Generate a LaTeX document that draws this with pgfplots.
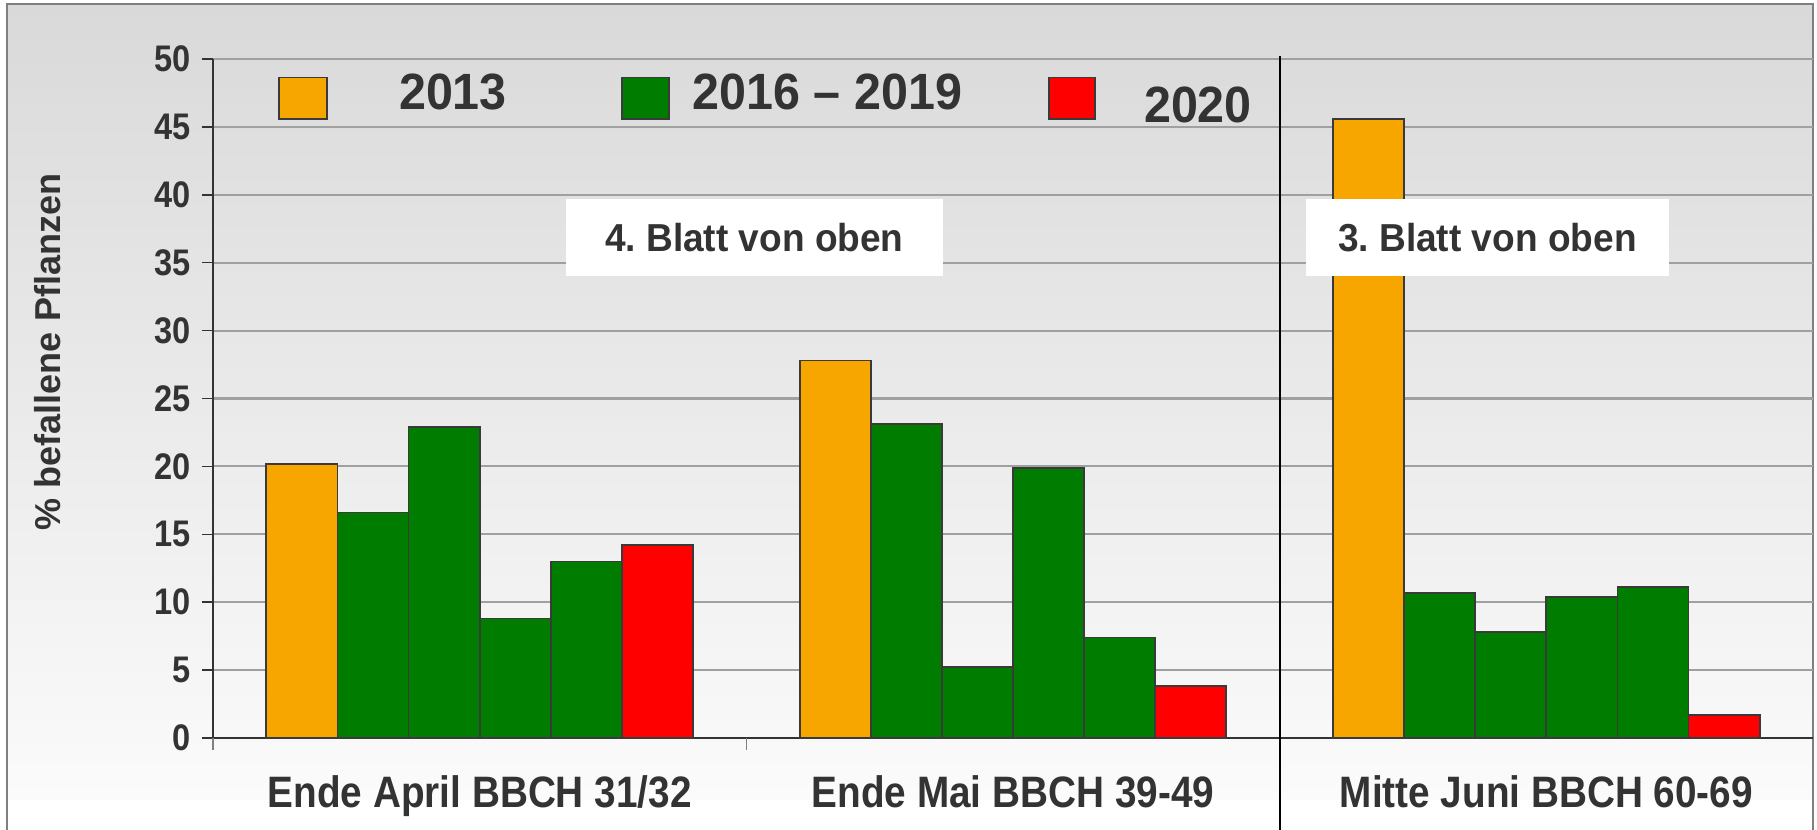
\documentclass[border=0pt]{standalone}
\usepackage{fontspec}
\setmainfont{Liberation Sans}
\newfontfamily\cond[FakeStretch=0.88]{Liberation Sans}
\newfontfamily\condb[FakeStretch=0.95]{Liberation Sans}
\usepackage{pgfplots}
\pgfplotsset{compat=1.18}
\definecolor{c2013}{HTML}{F7A600}
\definecolor{cgreen}{HTML}{007C00}
\definecolor{c2020}{HTML}{FF0000}
\definecolor{txt}{HTML}{333333}
\definecolor{bardraw}{HTML}{3A3A3A}
\definecolor{gridgray}{HTML}{A0A0A0}
\definecolor{bgtop}{HTML}{D9D9D9}
\definecolor{bgbot}{HTML}{FBFBFB}
\definecolor{framegray}{HTML}{7F7F7F}

\begin{document}
\begin{tikzpicture}[x=1pt,y=1pt]
  \useasboundingbox (0,0) rectangle (908.5,415);
  % background of the chart area
  \shade[top color=bgtop, bottom color=bgbot] (3.5,15) rectangle (906.5,413);
  \fill[white] (3.5,0) rectangle (906.5,15);
  \draw[framegray, line width=1pt] (3.5,-2) -- (3.5,413) -- (906.5,413) -- (906.5,-2);

  \begin{axis}[
      at={(106.5pt,46pt)}, anchor=south west,
      scale only axis,
      width=800pt, height=339.5pt,
      xmin=-0.5, xmax=2.5,
      ymin=0, ymax=50,
      ybar=0pt, bar width=0.1333,
      clip=false,
      axis x line*=bottom, axis y line*=left,
      axis line style={draw=txt, line width=0.7pt},
      tick align=outside,
      ytick={0,5,...,50},
      ymajorgrids=true,
      major grid style={draw=gridgray, line width=1.1pt},
      y tick style={draw=txt, line width=0.7pt},
      major tick length=5.5pt,
      /pgf/number format/assume math mode=true,
      yticklabel style={font=\cond\fontsize{18.5}{18.5}\selectfont\bfseries, text=txt, xshift=-2pt},
      xtick={0,1,2},
      xticklabels={Ende April BBCH 31/32, Ende Mai BBCH 39-49, Mitte Juni BBCH 60-69},
      x tick style={draw=none},
      xticklabel style={font=\cond\fontsize{22}{22}\selectfont\bfseries, text=txt, anchor=base, yshift=-29.5pt},
      extra x ticks={-0.5,0.5},
      extra x tick labels={},
      extra x tick style={grid=none, major tick length=6pt, x tick style={draw=gray, line width=0.7pt}},
    ]
    % 2013
    \addplot[fill=c2013, draw=bardraw, line width=0.9pt]
      coordinates {(0,20.2) (1,27.8) (2,45.6)};
    % 2016
    \addplot[fill=cgreen, draw=bardraw, line width=0.9pt]
      coordinates {(0,16.6) (1,23.1) (2,10.7)};
    % 2017
    \addplot[fill=cgreen, draw=bardraw, line width=0.9pt]
      coordinates {(0,22.9) (1,5.2) (2,7.8)};
    % 2018
    \addplot[fill=cgreen, draw=bardraw, line width=0.9pt]
      coordinates {(0,8.8) (1,19.9) (2,10.4)};
    % 2019
    \addplot[fill=cgreen, draw=bardraw, line width=0.9pt]
      coordinates {(0,13.0) (1,7.4) (2,11.1)};
    % 2020
    \addplot[fill=c2020, draw=bardraw, line width=0.9pt]
      coordinates {(0,14.2) (1,3.8) (2,1.7)};
    % separator between the leaf levels
    \draw[black, line width=0.9pt]
      ([yshift=1.5pt]axis cs:1.5,50) -- ([yshift=-60pt]axis cs:1.5,0);
  \end{axis}

  % y label
  \node[rotate=90, font=\fontsize{18}{18}\selectfont\bfseries, text=txt] at (23.75,239) {\% befallene Pflanzen};

  % boxes
  \node[fill=white, minimum width=188.8pt, minimum height=38.2pt, inner sep=0pt,
        font=\condb\fontsize{19.5}{19.5}\selectfont\bfseries, text=txt] at (377.2,296.2) {4.\ Blatt von oben};
  \node[fill=white, minimum width=181.4pt, minimum height=38.2pt, inner sep=0pt,
        font=\condb\fontsize{19.5}{19.5}\selectfont\bfseries, text=txt] at (743.7,296.2) {3.\ Blatt von oben};

  % legend
  \tikzset{legtxt/.style={font=\condb\fontsize{25.5}{25.5}\selectfont\bfseries, text=txt, inner sep=0pt}}
  \draw[fill=c2013, draw=bardraw, line width=0.9pt] (139.5,355.3) rectangle (163.5,376.2);
  \node[legtxt] at (226.5,369) {2013};
  \draw[fill=cgreen, draw=bardraw, line width=0.9pt] (311,355.3) rectangle (334.5,376.2);
  \node[legtxt] at (413.7,369) {2016 – 2019};
  \draw[fill=c2020, draw=bardraw, line width=0.9pt] (524.4,355.3) rectangle (547.6,376.2);
  \node[legtxt] at (599,362.5) {2020};
\end{tikzpicture}
\end{document}
